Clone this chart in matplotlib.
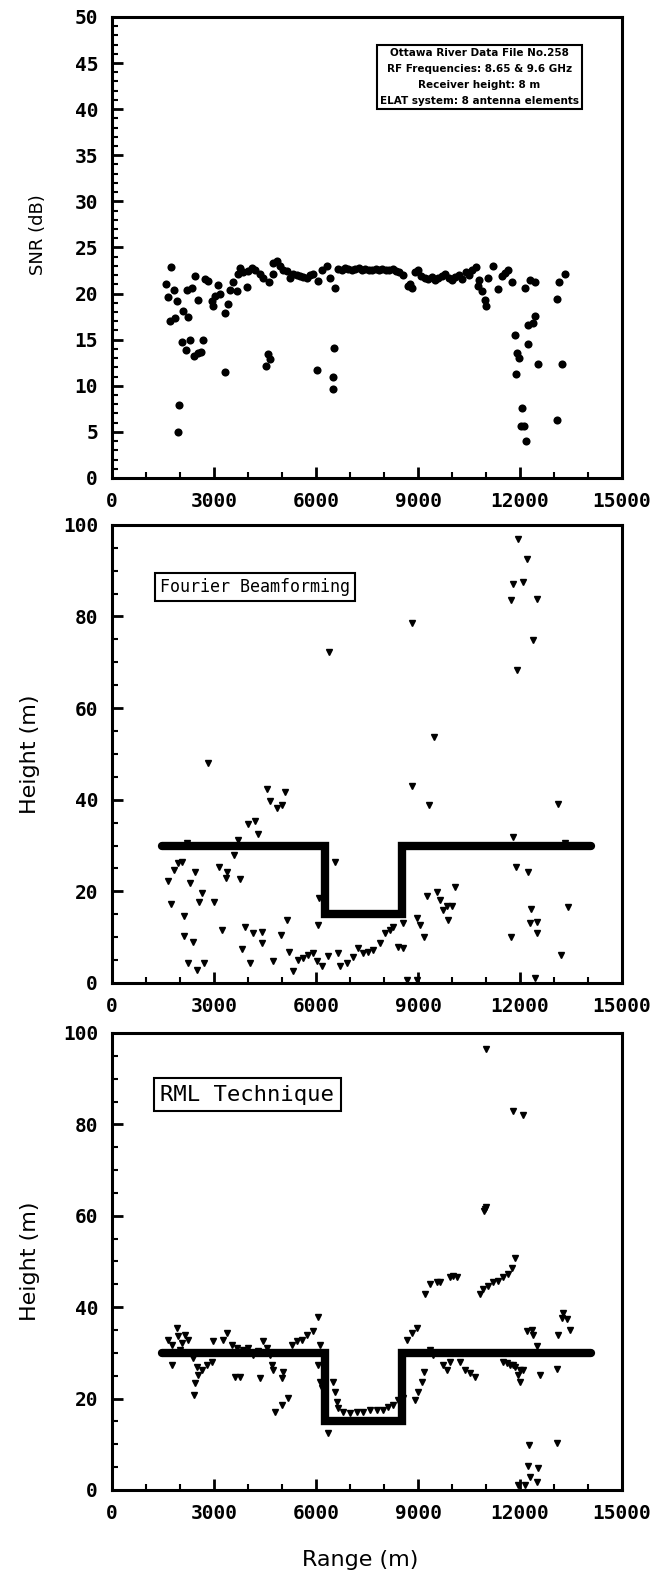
import numpy as np
import matplotlib
matplotlib.use("Agg")
from matplotlib import pyplot as plt
from matplotlib.ticker import MultipleLocator

# SNR measured along the track
snr_range = [1580, 1640, 1735, 1825, 1900, 1710, 1850, 1970, 1950, 2050,
             2170, 2100, 2245, 2215, 2345, 2295, 2450, 2520, 2410, 2540,
             2620, 2670, 2735, 2835, 2930, 3030, 3175, 2980, 3110, 3320,
             3320, 3400, 3470, 3570, 3665, 3715, 3765, 3865, 3960, 4010,
             4110, 4205, 4355, 4450, 4625, 4725, 4745, 4845, 4940, 5040,
             5140, 5235, 5335, 5430, 5530, 5630, 5725, 5820, 5920, 6070,
             6170, 6315, 6410, 6560, 4520, 4580, 4645, 6040, 6510, 6510,
             6540,
             6650, 6750, 6850, 6950, 7050, 7150, 7250, 7350, 7450, 7550,
             7650, 7750, 7850, 7950, 8050, 8150, 8250, 8350, 8450, 8550,
             8720, 8810, 8760, 8900, 9000, 9100, 9200, 9300, 9400, 9500,
             9600, 9700, 9800, 9900, 10000, 10100, 10200, 10300, 10400, 10500,
             10600, 10700, 10780, 10775, 10870, 10960, 11000, 11070, 11215, 11360,
             11460, 11560, 11655, 11755,
             11855, 11900, 11980, 11880, 12050, 12020, 12120, 12175, 12145, 12295,
             12440, 12245, 12245, 12390, 12440, 12540, 13080, 13155, 13325, 13080,
             13245]
snr_db = [21.0, 19.6, 22.9, 20.4, 19.2, 17.0, 17.4, 7.9, 5.0, 14.7,
          13.9, 18.1, 17.5, 20.4, 20.6, 15.0, 21.9, 19.3, 13.2, 13.6,
          13.7, 15.0, 21.6, 21.4, 19.2, 19.7, 19.9, 18.6, 20.9, 11.5,
          17.9, 18.9, 20.4, 21.2, 20.3, 22.1, 22.8, 22.3, 20.7, 22.4,
          22.8, 22.6, 22.1, 21.7, 21.2, 22.1, 23.3, 23.5, 23.0, 22.6,
          22.4, 21.7, 22.1, 22.0, 21.9, 21.8, 21.7, 22.0, 22.1, 21.4,
          22.6, 23.0, 21.7, 20.6, 12.1, 13.4, 12.9, 11.7, 10.9, 9.6,
          14.1,
          22.7, 22.6, 22.8, 22.7, 22.6, 22.7, 22.8, 22.6, 22.7, 22.6,
          22.5, 22.7, 22.6, 22.7, 22.5, 22.6, 22.7, 22.4, 22.3, 22.0,
          20.8, 20.6, 21.0, 22.3, 22.5, 21.9, 21.7, 21.6, 21.8, 21.5,
          21.7, 21.9, 22.1, 21.7, 21.5, 21.8, 22.0, 21.6, 22.3, 22.0,
          22.6, 22.9, 21.5, 20.8, 20.3, 19.3, 18.6, 21.7, 23.0, 20.5,
          21.9, 22.2, 22.6, 21.2,
          15.5, 13.6, 13.0, 11.3, 7.6, 5.6, 5.6, 4.0, 20.6, 21.5,
          21.3, 14.5, 16.6, 16.8, 17.6, 12.4, 19.4, 21.2, 22.1, 6.3,
          12.4]

# true target height profile
step_range = [1460, 6250, 6250, 8530, 8530, 14100]
step_height = [30, 30, 15, 15, 30, 30]

# Fourier beamforming height estimates
fb_range = [11930, 12215, 11805, 12100, 11725, 12490, 12390, 11900, 8835, 6375,
            9470, 2815, 8825, 9335, 13110, 4570, 4645, 4845, 4990, 5090,
            3990, 4205, 4305, 3695, 3600, 11805, 13325, 2195, 1655, 1725,
            1825, 1950, 2050, 2295, 2440, 2635, 2560, 3010, 2120, 2120,
            2375, 2245, 2490, 2705, 3155, 3375, 3345, 3765, 3245, 3835,
            3910, 4135, 4420, 4420, 4060, 4745, 4960, 5155, 5215, 5315,
            5480, 5625, 5775, 5920, 6020, 6165, 6365, 6070, 6100, 6560,
            6655, 6705, 6900, 7100, 7245, 7390, 7540, 7685, 7880, 8030,
            8175, 8275, 8420, 8570, 8570, 8960, 9060, 9175, 8665, 8960,
            9275, 9550, 9645, 9745, 9845, 9990, 9890, 10090, 11725, 11875,
            12245, 12325, 12295, 12490, 12490, 12440, 13205, 13400]
fb_height = [96.9, 92.5, 87.1, 87.5, 83.5, 83.8, 74.9, 68.3, 78.5, 72.3,
             53.6, 48.0, 42.9, 38.9, 39.0, 42.3, 39.8, 38.1, 38.9, 41.6,
             34.7, 35.4, 32.5, 31.2, 27.9, 31.8, 30.5, 30.6, 22.3, 17.2,
             24.7, 26.1, 26.5, 21.8, 24.3, 19.7, 17.6, 17.6, 14.6, 10.3,
             8.9, 4.4, 2.8, 4.3, 25.3, 24.3, 22.9, 22.7, 11.6, 7.4,
             12.2, 10.8, 11.2, 8.7, 4.3, 4.8, 10.5, 13.8, 6.8, 2.5,
             5.0, 5.4, 6.1, 6.5, 4.7, 3.7, 5.9, 12.7, 18.5, 26.5,
             6.5, 3.6, 4.3, 5.7, 7.6, 6.5, 6.8, 7.2, 8.7, 10.8,
             11.6, 12.3, 7.9, 7.6, 13.0, 14.1, 12.7, 10.0, 0.7, 0.7,
             18.9, 19.9, 18.1, 15.9, 16.7, 16.7, 13.8, 21.0, 10.1, 25.3,
             24.2, 16.1, 13.0, 13.4, 11.0, 1.0, 6.0, 16.5]

# RML technique height estimates
rml_range = [11000, 11785, 12080, 10945, 10970, 11000,
             11855, 11755, 11655, 11510, 11365, 11215, 11070, 10920, 10825,
             9205, 9355, 9550, 9645, 9940, 10040, 10155,
             13275, 13225, 13375, 13470, 13125, 12195, 12345, 12390, 12490,
             12100, 11950, 12000, 12590, 13080, 11705, 11855,
             12275, 13100, 12245, 12520, 12295, 12490, 11950, 12145,
             1655, 1755, 1900, 1950, 2050, 2145, 2245, 2000, 1755,
             2390, 2490, 2540, 2440, 2420, 2635, 2785, 2930,
             2960, 3275, 3375, 3520, 3665, 3865, 4010, 4155, 4305, 4450,
             4550, 4645, 3620, 3765, 4355, 4695, 4745, 5020, 4990,
             4795, 4990, 5185, 5285, 5430, 5580, 5725, 5920, 6070, 6120,
             6070, 6120, 6165, 6365, 6510, 6560, 6610,
             6655, 6805, 7000, 7195, 7390, 7590, 7785, 7980, 8125, 8275,
             8420, 8570, 8665, 8815, 8960, 8910, 9010, 9110, 9175,
             9355, 9450, 9745, 9845, 9940, 10090, 10235, 10380, 10530, 10675,
             11510, 11610, 11805, 11990]
rml_height = [96.4, 82.9, 82.0, 61.0, 61.5, 62.0,
              50.8, 48.6, 47.2, 46.5, 45.8, 45.4, 44.7, 44.0, 42.9,
              42.8, 45.0, 45.4, 45.4, 46.5, 46.9, 46.5,
              38.8, 37.7, 37.3, 35.1, 34.0, 34.7, 35.1, 34.0, 31.4,
              26.3, 25.2, 23.7, 25.2, 26.5, 27.4, 27.0,
              9.8, 10.2, 5.3, 4.7, 2.9, 1.8, 1.0, 1.0,
              32.9, 31.8, 35.5, 33.6, 32.2, 34.0, 32.9, 30.7, 27.4,
              28.9, 27.0, 25.2, 23.4, 20.8, 26.3, 27.4, 28.1,
              32.5, 32.9, 34.4, 31.8, 31.1, 30.7, 31.1, 29.6, 30.3, 32.5,
              31.1, 29.6, 24.8, 24.8, 24.5, 27.4, 26.3, 25.9, 24.5,
              17.1, 18.6, 20.1, 31.8, 32.5, 32.9, 34.0, 34.7, 37.8, 31.8,
              27.4, 23.7, 22.3, 12.4, 23.7, 21.5, 19.3,
              17.9, 17.1, 16.8, 17.1, 17.1, 17.5, 17.5, 17.5, 18.2, 18.6,
              19.7, 20.1, 32.9, 34.4, 35.5, 19.7, 21.5, 23.7, 25.9,
              30.7, 29.6, 27.4, 26.3, 28.1, 30.0, 28.1, 26.3, 25.6, 24.8,
              28.1, 27.8, 27.4, 26.3]

info_lines = ["Ottawa River Data File No.258",
              "RF Frequencies: 8.65 & 9.6 GHz",
              "Receiver height: 8 m",
              "ELAT system: 8 antenna elements"]

tick_font = {"family": "DejaVu Sans Mono", "weight": "bold", "size": 14}
label_font = "DejaVu Sans"


def style_axes(ax, ymax, ymajor, yminor):
    ax.set_xlim(0, 15000)
    ax.set_ylim(0, ymax)
    ax.xaxis.set_major_locator(MultipleLocator(3000))
    ax.xaxis.set_minor_locator(MultipleLocator(1000))
    ax.yaxis.set_major_locator(MultipleLocator(ymajor))
    ax.yaxis.set_minor_locator(MultipleLocator(yminor))
    ax.tick_params(which="both", direction="in", top=False, right=False)
    ax.tick_params(which="major", length=8, width=2, pad=10)
    ax.tick_params(which="minor", length=4, width=1.5)
    for s in ax.spines.values():
        s.set_linewidth(2.2)
    for lab in ax.get_xticklabels() + ax.get_yticklabels():
        lab.set_fontfamily(tick_font["family"])
        lab.set_fontweight(tick_font["weight"])
        lab.set_fontsize(tick_font["size"])


fig = plt.figure(figsize=(6.52, 15.79), dpi=100)
L, W = 0.1718, 0.7822
ax1 = fig.add_axes([L, 0.6973, W, 0.2920])
ax2 = fig.add_axes([L, 0.3775, W, 0.2901])
ax3 = fig.add_axes([L, 0.0564, W, 0.2894])

# SNR panel
ax1.scatter(snr_range, snr_db, s=34, color="black", marker="o", linewidths=0)
style_axes(ax1, 50, 5, 1)
ax1.set_ylabel("SNR (dB)", fontsize=13, family=label_font)
ax1.yaxis.set_label_coords(-0.127, 0.527)
ax1.text(0.72, 0.869, "\n".join(info_lines), transform=ax1.transAxes,
         ha="center", va="center", fontsize=7.5, fontweight="bold",
         family=label_font, linespacing=1.75,
         bbox=dict(boxstyle="square,pad=0.3", fc="white", ec="black", lw=1.5))

# height panels
for ax, hr, hh, name, fs in [(ax2, fb_range, fb_height, "Fourier Beamforming", 12),
                             (ax3, rml_range, rml_height, "RML Technique", 16)]:
    ax.plot(step_range, step_height, color="black", lw=6,
            solid_capstyle="round", solid_joinstyle="miter", zorder=2)
    ax.plot(hr, hh, linestyle="none", marker="v", markersize=5,
            color="black", zorder=3)
    style_axes(ax, 100, 20, 5)
    ax.set_ylabel("Height (m)", fontsize=16, family=label_font)
    ax.yaxis.set_label_coords(-0.141, 0.50)
    ax.text(0.095, 0.865, name, transform=ax.transAxes, ha="left", va="center",
            fontsize=fs, family="DejaVu Sans Mono",
            bbox=dict(boxstyle="square,pad=0.3", fc="white", ec="black", lw=1.5))

ax3.set_xlabel("Range (m)", fontsize=16, family=label_font)
ax3.xaxis.set_label_coords(0.486, -0.132)

fig.savefig("out.png", dpi=100)
